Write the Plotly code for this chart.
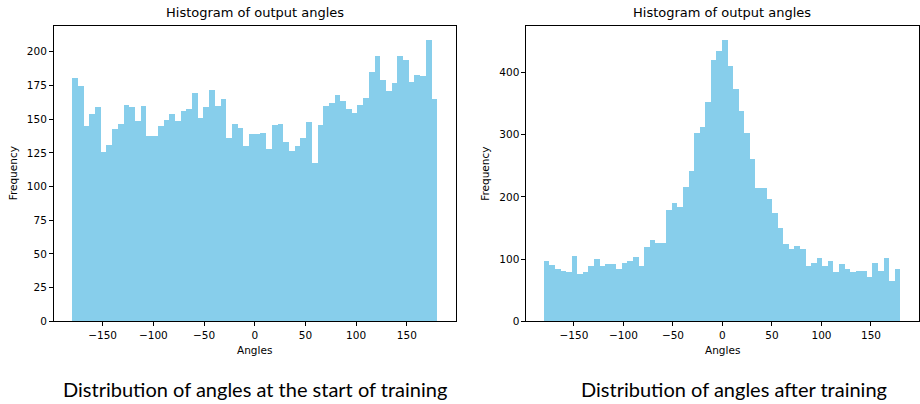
import numpy as np
import plotly.graph_objects as go

# ---- data ----
bin_edges = np.linspace(-180, 180, 65)  # 64 bins
start_counts = [181, 175, 145, 154, 159, 126, 131, 143, 147, 161, 159, 149, 160, 138, 138, 145,
                150, 154, 149, 156, 158, 170, 151, 159, 172, 160, 165, 136, 147, 144, 130, 139,
                139, 140, 128, 146, 147, 133, 127, 130, 136, 148, 118, 146, 160, 162, 168, 164,
                158, 155, 161, 166, 185, 197, 179, 171, 177, 197, 194, 178, 183, 182, 209, 165]
after_counts = [98, 91, 84, 81, 79, 106, 77, 79, 89, 101, 89, 92, 93, 85, 94, 98,
                104, 90, 120, 131, 127, 126, 180, 190, 184, 217, 242, 304, 313, 353, 421, 435,
                453, 412, 375, 339, 304, 261, 215, 215, 198, 174, 151, 125, 116, 122, 117, 89,
                94, 102, 89, 97, 80, 93, 85, 80, 82, 82, 71, 94, 81, 103, 66, 85]
x_ticks = [-150, -100, -50, 0, 50, 100, 150]
x_tick_labels = ["\u2212150", "\u2212100", "\u221250", "0", "50", "100", "150"]
left_y_ticks = [0, 25, 50, 75, 100, 125, 150, 175, 200]
right_y_ticks = [0, 100, 200, 300, 400]
title_text = "Histogram of output angles"
captions = ["Distribution of angles at the start of training", "Distribution of angles after training"]

centers = (bin_edges[:-1] + bin_edges[1:]) / 2
widths = np.diff(bin_edges)

W, H = 920, 404
BAR = "#87CEEB"
FONT = "DejaVu Sans"

fig = go.Figure()
fig.add_trace(go.Bar(x=centers, y=start_counts, width=widths, marker=dict(color=BAR, line=dict(width=0)),
                     xaxis="x", yaxis="y", showlegend=False))
fig.add_trace(go.Bar(x=centers, y=after_counts, width=widths, marker=dict(color=BAR, line=dict(width=0)),
                     xaxis="x2", yaxis="y2", showlegend=False))

top_px, bot_px = 26, 326
ydom = [(H - bot_px) / H, (H - top_px) / H]
left_dom = [54 / W, 456 / W]
right_dom = [527 / W, 919.5 / W]

axis_common = dict(showline=True, linecolor="black", linewidth=1, mirror=True,
                   ticks="outside", ticklen=4, tickwidth=1, tickcolor="black",
                   showgrid=False, zeroline=False,
                   tickfont=dict(family=FONT, size=10.5, color="black"))

fig.update_layout(
    width=W, height=H, margin=dict(l=0, r=0, t=0, b=0),
    paper_bgcolor="white", plot_bgcolor="white", bargap=0,
    xaxis=dict(domain=left_dom, anchor="y", range=[-198, 198], tickvals=x_ticks, ticktext=x_tick_labels, **axis_common),
    yaxis=dict(domain=ydom, anchor="x", range=[0, max(start_counts) * 1.05], tickvals=left_y_ticks, **axis_common),
    xaxis2=dict(domain=right_dom, anchor="y2", range=[-198, 198], tickvals=x_ticks, ticktext=x_tick_labels, **axis_common),
    yaxis2=dict(domain=ydom, anchor="x2", range=[0, max(after_counts) * 1.05], tickvals=right_y_ticks, **axis_common),
)

ann = []
for dom, cap, ylab_x in [(left_dom, captions[0], 13), (right_dom, captions[1], 486)]:
    cx = (dom[0] + dom[1]) / 2
    ann.append(dict(text=title_text, x=cx, y=(H - 13) / H, xref="paper", yref="paper",
                    xanchor="center", yanchor="middle", showarrow=False,
                    font=dict(family=FONT, size=13, color="black")))
    ann.append(dict(text="Angles", x=cx, y=(H - 355) / H, xref="paper", yref="paper",
                    xanchor="center", yanchor="middle", showarrow=False,
                    font=dict(family=FONT, size=10.5, color="black")))
    ann.append(dict(text="Frequency", x=ylab_x / W, y=(ydom[0] + ydom[1]) / 2, xref="paper", yref="paper",
                    xanchor="center", yanchor="middle", textangle=-90, showarrow=False,
                    font=dict(family=FONT, size=10.5, color="black")))
ann.append(dict(text=captions[0], x=255.7 / W, y=(H - 395) / H, xref="paper", yref="paper",
                xanchor="center", yanchor="middle", showarrow=False,
                font=dict(family="Lato", size=20, color="black")))
ann.append(dict(text=captions[1], x=734.3 / W, y=(H - 395) / H, xref="paper", yref="paper",
                xanchor="center", yanchor="middle", showarrow=False,
                font=dict(family="Lato", size=20, color="black")))
fig.update_layout(annotations=ann)

fig.write_html("out.html")
